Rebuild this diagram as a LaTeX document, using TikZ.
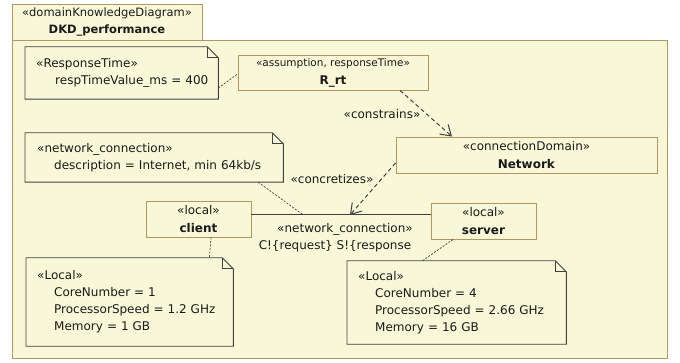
\documentclass[tikz,border=0pt]{standalone}
\usepackage{fontspec}
\setmainfont{DejaVu Sans}
\usetikzlibrary{arrows.meta,calc}

\definecolor{dkdbg}{HTML}{F8F8D8}
\definecolor{dkdgold}{HTML}{B4985A}
\definecolor{dkdline}{HTML}{404040}
\definecolor{dkdtext}{HTML}{1A1A1A}

\tikzset{
  basefont/.style={font=\fontsize{12}{18}\selectfont, text=dkdtext},
  element/.style={draw=dkdgold, line width=0.9pt, fill=dkdbg, align=center,
    inner sep=0pt, basefont},
  notebody/.style={inner xsep=11pt, inner ysep=0pt, align=left, anchor=west,
    font=\fontsize{12}{17}\selectfont, text=dkdtext},
  noteline/.style={draw=dkdline, line width=0.9pt},
  anchorline/.style={draw=dkdline, line width=0.7pt, dash pattern=on 2pt off 1.5pt},
  depline/.style={draw=dkdline, line width=1pt, dash pattern=on 4pt off 3pt,
    -{Straight Barb[length=10pt,width=13pt,line width=1pt]}},
  assocline/.style={draw=dkdline, line width=1pt},
  edgelabel/.style={basefont, inner sep=0pt},
}

% folded-corner outline around an (undrawn) note node
\newcommand{\dkdnote}[1]{%
  \draw[noteline] (#1.south west) -- (#1.north west) -- ([xshift=-11pt]#1.north east)
    -- ([yshift=-11pt]#1.north east) -- (#1.south east) -- cycle;
  \draw[noteline, line width=0.7pt] ([xshift=-11pt]#1.north east)
    |- ([yshift=-11pt]#1.north east);
}
% one indented attribute line of a note
\newcommand{\dkdattr}[1]{\mbox{\hspace*{17pt}#1}}

\begin{document}
\begin{tikzpicture}[x=1pt,y=-1pt]
\useasboundingbox (0,0) rectangle (680,363);
\fill[white] (0,0) rectangle (680,363);

% diagram frame and its name tab
\draw[draw=dkdgold, line width=0.9pt, fill=dkdbg] (12,40) rectangle (667,358);
\node[element, minimum width=190, minimum height=36,
      font=\fontsize{11.5}{18}\selectfont] (tab) at (107,22)
  {«domainKnowledgeDiagram»\\[-1pt]\textbf{DKD\_performance}};

% requirement and domains
\node[element, minimum width=190, minimum height=35] (rrt) at (333,72.5)
  {{\fontsize{10.5}{18}\selectfont «assumption, responseTime»}\\\textbf{R\_rt}};
\node[element, minimum width=261, minimum height=36] (net) at (526.5,155)
  {«connectionDomain»\\\textbf{Network}};
\node[element, minimum width=105, minimum height=36] (cl) at (198.5,219)
  {«local»\\\textbf{client}};
\node[element, minimum width=105, minimum height=36] (sv) at (483.5,221)
  {«local»\\\textbf{server}};

% notes
\node[notebody, text width=171, minimum height=52] (rtn) at (25,73)
  {«ResponseTime»\\\mbox{\hspace*{19pt}respTimeValue\_ms = 400}};
\dkdnote{rtn}
\node[notebody, inner xsep=12pt, text width=234, minimum height=49] (ncn) at (25,157.5)
  {«network\_connection»\\\dkdattr{description = Internet, min 64kb/s}};
\dkdnote{ncn}
\node[notebody, text width=185, minimum height=88] (cln) at (26,302)
  {«Local»\\\dkdattr{CoreNumber = 1}\\\dkdattr{ProcessorSpeed = 1.2 GHz}\\\dkdattr{Memory = 1 GB}};
\dkdnote{cln}
\node[notebody, text width=197, minimum height=83] (svn) at (347,302.5)
  {«Local»\\\dkdattr{CoreNumber = 4}\\\dkdattr{ProcessorSpeed = 2.66 GHz}\\\dkdattr{Memory = 16 GB}};
\dkdnote{svn}

% association between client and server
\draw[assocline] ([yshift=4pt]cl.east) -- ([yshift=6pt]sv.west);
\coordinate (amid) at ($([yshift=4pt]cl.east)!0.55!([yshift=6pt]sv.west)$);
\coordinate (anote) at ($([yshift=4pt]cl.east)!0.29!([yshift=6pt]sv.west)$);
\node[edgelabel] (alab1) at (345,229) {«network\_connection»};
\node[edgelabel] (alab2) at (335,246) {C!\{request\} S!\{response};

% dependencies
\draw[depline] ([xshift=67pt]rrt.south) -- ([xshift=-74.5pt]net.north);
\node[edgelabel] (conlab) at (382,114) {«constrains»};
\draw[depline] ([yshift=-8pt]net.west) -- (amid);
\node[edgelabel] (crtlab) at (332,179) {«concretizes»};

% note attachments
\draw[anchorline] ([yshift=-15pt]rtn.east) -- ([yshift=-1.5pt]rrt.west);
\draw[anchorline] ([xshift=104pt]ncn.south) -- (anote);
\draw[anchorline] ([xshift=12.5pt]cl.south) -- ([xshift=-24pt]cln.north east);
\draw[anchorline] ([xshift=-30.5pt]sv.south) -- ([xshift=-144pt]svn.north east);
\end{tikzpicture}
\end{document}
